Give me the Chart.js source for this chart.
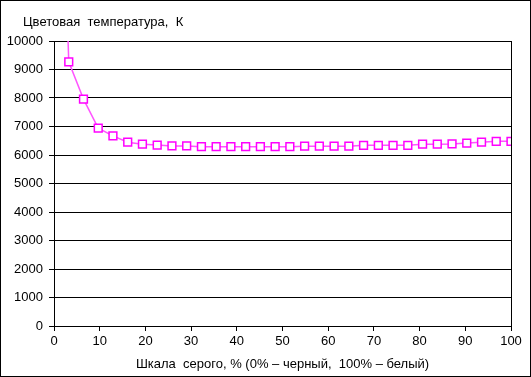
<!DOCTYPE html>
<html><head><meta charset="utf-8">
<script src="https://cdn.jsdelivr.net/npm/chart.js@4/dist/chart.umd.min.js"></script>
<style>html,body{margin:0;padding:0;background:#fff}#wrap{width:531px;height:377px;position:relative}</style>
</head><body><div id="wrap"><canvas id="c" width="531" height="377"></canvas></div>
<script>
const chartTitle = "Цветовая  температура,  К";
const xTitle = "Шкала  серого, % (0% – черный,  100% – белый)";
const grayPercent = [0,3.23,6.45,9.68,12.9,16.13,19.35,22.58,25.81,29.03,32.26,35.48,38.71,41.94,45.16,48.39,51.61,54.84,58.06,61.29,64.52,67.74,70.97,74.19,77.42,80.65,83.87,87.1,90.32,93.55,96.77,100];
const colorTemp = [25000,9270,7960,6940,6670,6450,6380,6350,6320,6320,6290,6290,6290,6290,6290,6290,6290,6310,6310,6310,6310,6340,6340,6340,6340,6380,6380,6390,6420,6450,6480,6480];
const yTicks = {min:0,max:10000,step:1000};
const xTicks = {min:0,max:100,step:10};

const FONT = "'Liberation Sans', Arial, sans-serif";
const framePlugin = {
  id:'frame',
  afterDraw(chart){
    const {ctx, chartArea:a} = chart;
    ctx.save();
    ctx.strokeStyle='#000'; ctx.lineWidth=1;
    ctx.beginPath();
    ctx.moveTo(Math.round(a.right)+0.5, a.top); ctx.lineTo(Math.round(a.right)+0.5, a.bottom+1);
    ctx.stroke();
    ctx.strokeRect(0.5,0.5,530,376);
    ctx.fillStyle='#000';
    ctx.font = "13px "+FONT;
    ctx.textBaseline='alphabetic';
    ctx.textAlign='left';
    ctx.fillText(chartTitle, 23, 26);
    ctx.textAlign='center';
    ctx.fillText(xTitle, (a.left+a.right)/2, 368);
    ctx.restore();
  }
};

const pts = grayPercent.map((x,i)=>({x, y: colorTemp[i]}));
new Chart(document.getElementById('c'), {
  type:'line',
  data:{datasets:[{
    data: pts,
    borderColor:'#ff55ff',
    borderWidth:1.5,
    tension:0,
    pointStyle:'rect',
    pointRadius: pts.map((p,i)=> i===0?0:5.5),
    pointBorderColor:'#ff00ff',
    pointBackgroundColor:'#ffffff',
    pointBorderWidth:1.5
  }]},
  options:{
    responsive:false, animation:false,
    devicePixelRatio:1,
    layout:{padding:{left:0,right:20,top:41,bottom:0}},
    plugins:{legend:{display:false},tooltip:{enabled:false}},
    scales:{
      x:{type:'linear',min:xTicks.min,max:xTicks.max,
        afterFit(s){s.height=51;},
        border:{color:'#000',width:1},
        grid:{drawOnChartArea:false,drawTicks:true,tickLength:5,color:'#000'},
        ticks:{stepSize:xTicks.step,color:'#000',font:{family:FONT,size:13},padding:3,maxRotation:0}
      },
      y:{min:yTicks.min,max:yTicks.max,
        afterFit(s){s.width=54;},
        border:{color:'#000',width:1},
        grid:{color:'#000',tickLength:5},
        ticks:{stepSize:yTicks.step,color:'#000',font:{family:FONT,size:13},padding:6,callback:v=>String(v)}
      }
    }
  },
  plugins:[framePlugin]
});
</script></body></html>
